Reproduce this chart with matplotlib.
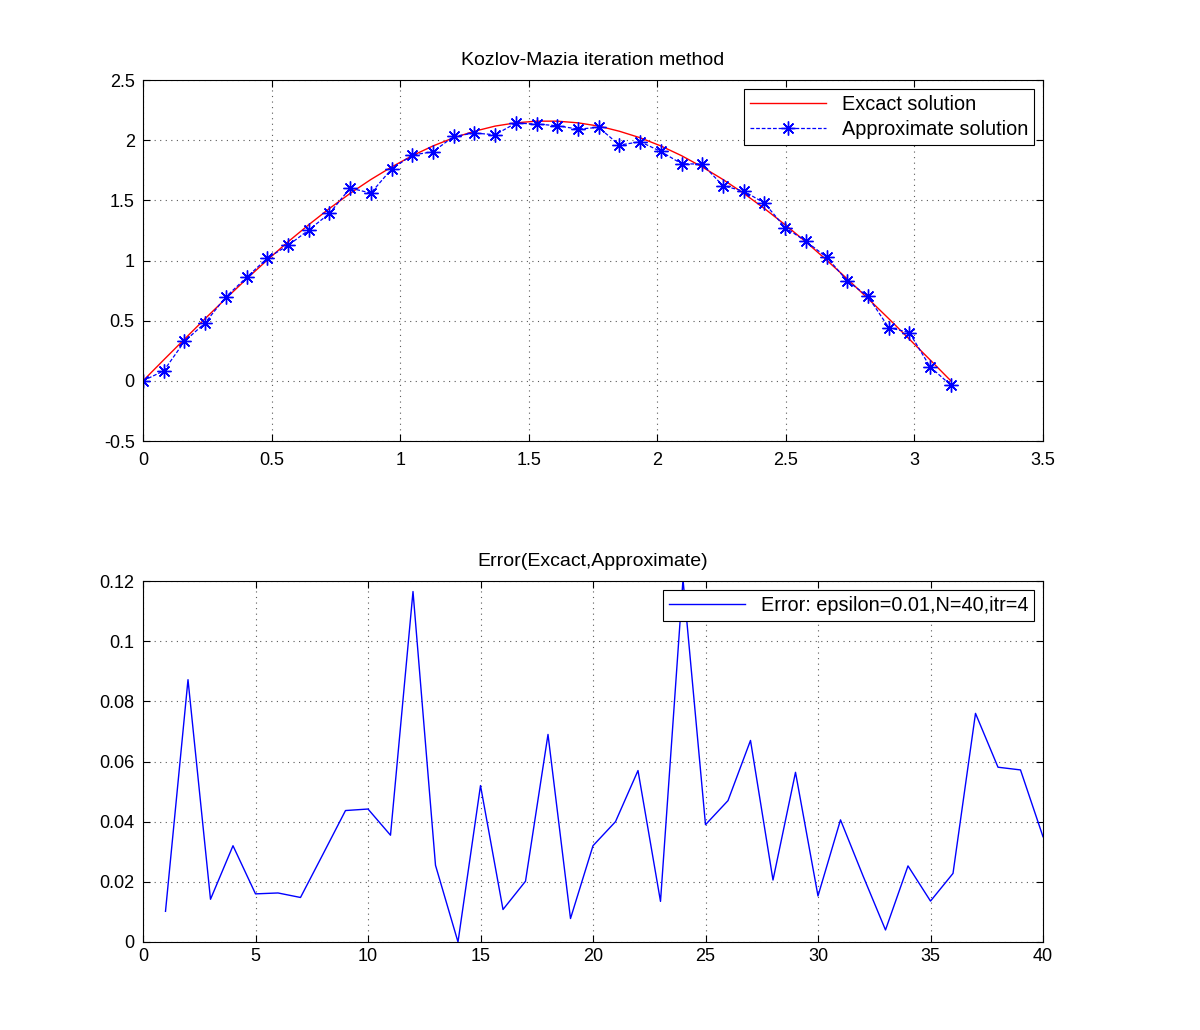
import matplotlib
matplotlib.use("Agg")
import matplotlib.pyplot as plt
import numpy as np
from matplotlib.ticker import FuncFormatter

plt.rcParams['font.family'] = ['Liberation Sans', 'DejaVu Sans']

# ---- data ----
n_points = 40
x_nodes = np.linspace(0, np.pi, n_points)

exact = [0.000, 0.174, 0.346, 0.517, 0.684, 0.847, 1.004, 1.155, 1.297, 1.432,
         1.558, 1.673, 1.777, 1.871, 1.952, 2.020, 2.074, 2.117, 2.144, 2.158,
         2.158, 2.144, 2.117, 2.074, 2.020, 1.952, 1.871, 1.777, 1.673, 1.558,
         1.432, 1.297, 1.155, 1.004, 0.847, 0.684, 0.517, 0.346, 0.174, 0.000]

approx = [0.000, 0.083, 0.327, 0.482, 0.698, 0.859, 1.020, 1.125, 1.253, 1.391,
          1.602, 1.560, 1.760, 1.876, 1.904, 2.031, 2.059, 2.045, 2.142, 2.134,
          2.120, 2.092, 2.106, 1.959, 1.987, 1.906, 1.804, 1.801, 1.621, 1.577,
          1.477, 1.274, 1.160, 1.028, 0.831, 0.701, 0.443, 0.401, 0.116, -0.036]

err_index = list(range(1, 41))
error = [0.0102, 0.0872, 0.0142, 0.0320, 0.0160, 0.0163, 0.0148, 0.0292, 0.0437, 0.0442,
         0.0355, 0.1165, 0.0255, 0.0000, 0.0520, 0.0108, 0.0202, 0.0690, 0.0078, 0.0320,
         0.0400, 0.0570, 0.0135, 0.1205, 0.0390, 0.0470, 0.0670, 0.0206, 0.0564, 0.0153,
         0.0406, 0.0220, 0.0040, 0.0253, 0.0136, 0.0228, 0.0760, 0.0581, 0.0572, 0.0350]

top_xticks = [0, 0.5, 1, 1.5, 2, 2.5, 3, 3.5]
top_yticks = [-0.5, 0, 0.5, 1, 1.5, 2, 2.5]
bot_xticks = [0, 5, 10, 15, 20, 25, 30, 35, 40]
bot_yticks = [0, 0.02, 0.04, 0.06, 0.08, 0.1, 0.12]

def fmt(v, pos=None):
    s = ('%.4f' % v).rstrip('0').rstrip('.')
    return '0' if s in ('-0', '') else s

fig = plt.figure(figsize=(12, 10.3), dpi=100)
ax1 = fig.add_axes([143/1200, 1-441/1030, 900/1200, 361/1030])
ax2 = fig.add_axes([143/1200, 1-942/1030, 900/1200, 361/1030])

def style(ax, xpad):
    ax.tick_params(direction='in', top=True, right=True, labelsize=13,
                   length=5, width=0.8)
    ax.tick_params(axis='x', pad=xpad)
    ax.tick_params(axis='y', pad=6)
    ax.grid(True, linestyle=(0, (1, 4)), color='0.35', linewidth=0.8)
    for sp in ax.spines.values():
        sp.set_linewidth(0.8)
        sp.set_color('black')
    ax.xaxis.set_major_formatter(FuncFormatter(fmt))
    ax.yaxis.set_major_formatter(FuncFormatter(fmt))

def legend(ax):
    leg = ax.legend(loc='upper right', fontsize=14.3, handlelength=3.8,
                    borderaxespad=0.45, borderpad=0.3, labelspacing=0.3,
                    handletextpad=0.8, fancybox=False, framealpha=1)
    leg.get_frame().set_edgecolor('black')
    leg.get_frame().set_linewidth(0.8)
    return leg

ax1.plot(x_nodes, exact, color='red', linewidth=1.0, label='Excact solution')
ax1.plot(x_nodes, approx, color='blue', linestyle='--', dashes=(3, 1.5), linewidth=0.9,
         marker=(8, 2, 0), markersize=10, markeredgewidth=1.0,
         label='Approximate solution')
ax1.set_xlim(0, 3.5)
ax1.set_ylim(-0.5, 2.5)
ax1.set_xticks(top_xticks)
ax1.set_yticks(top_yticks)
style(ax1, 8)
ax1.set_title('Kozlov-Mazia iteration method', fontsize=14, pad=11)
legend(ax1)

ax2.plot(err_index, error, color='blue', linewidth=1.0,
         label='Error: epsilon=0.01,N=40,itr=4')
ax2.set_xlim(0, 40)
ax2.set_ylim(0, 0.12)
ax2.set_xticks(bot_xticks)
ax2.set_yticks(bot_yticks)
style(ax2, 4)
ax2.set_title('Error(Excact,Approximate)', fontsize=14, pad=11)
legend(ax2)

fig.savefig('out.png', dpi=100, facecolor='white')
